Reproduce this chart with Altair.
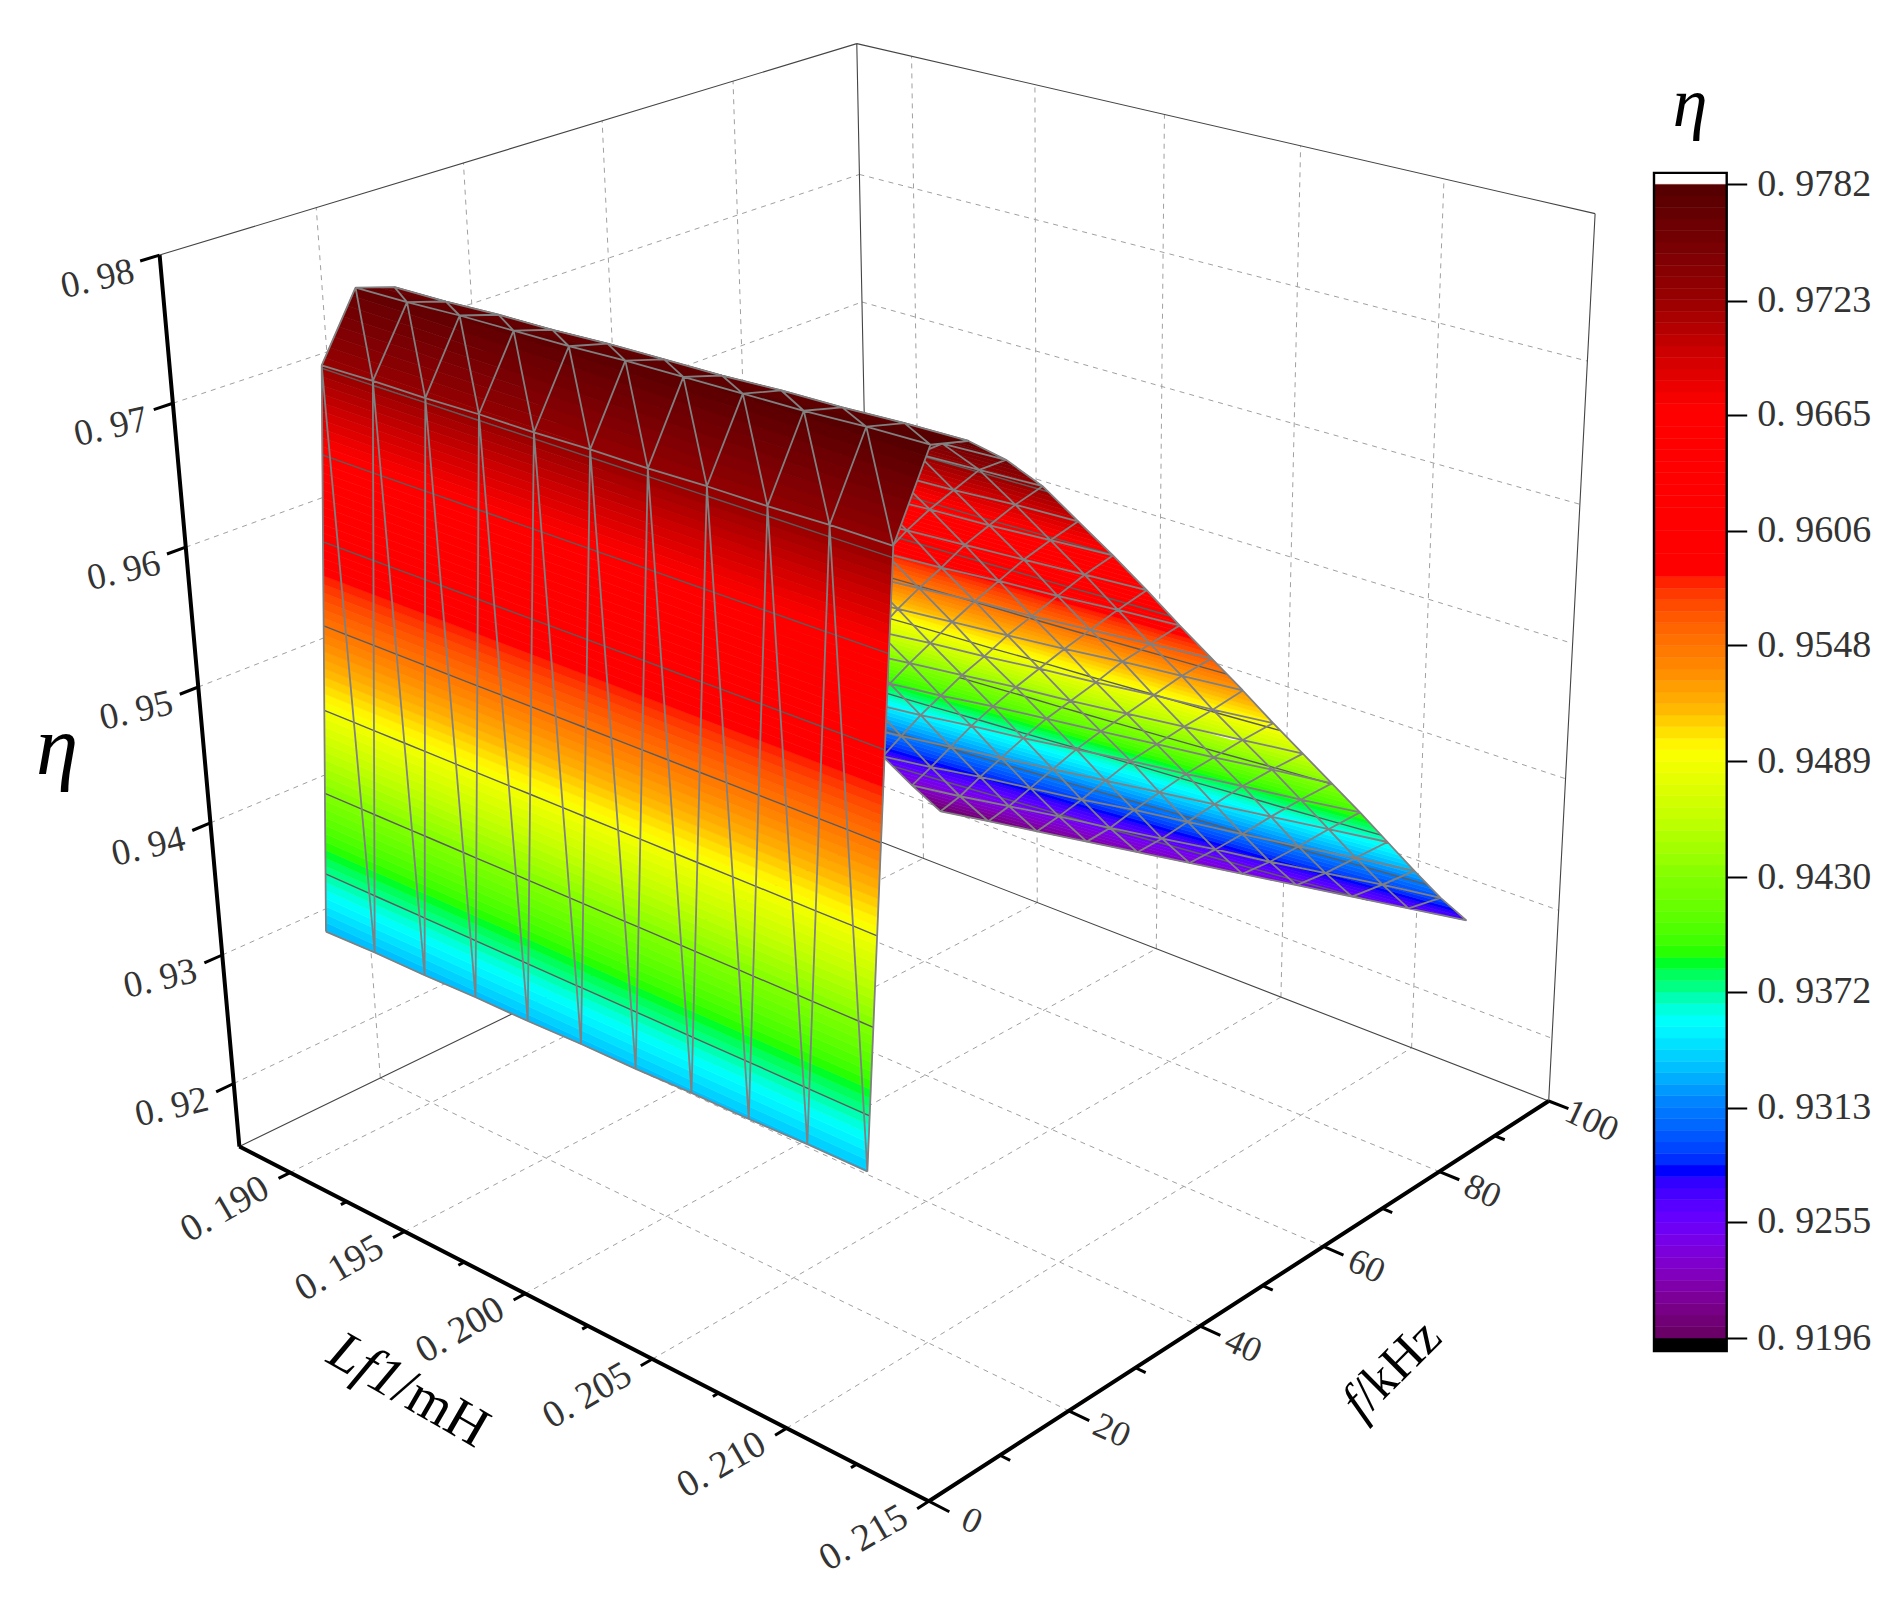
import math
import altair as alt
import numpy as np

# ---------- values ----------
L_VALUES = [0.1908, 0.1929, 0.1950, 0.1971, 0.1992, 0.2013, 0.2034, 0.2055, 0.2076, 0.2097, 0.2118]
F_VALUES = [5, 10, 15, 20, 25, 30, 35, 40, 45, 50, 55, 60, 65, 70, 75, 80, 85, 90, 95, 100]
ETA = [
    [.9330, .9331, .9331, .9332, .9332, .9333, .9333, .9334, .9334, .9335, .9335],
    [.9725, .9726, .9726, .9727, .9727, .9728, .9728, .9729, .9729, .9730, .9730],
    [.9769, .9770, .9772, .9773, .9774, .9776, .9777, .9778, .9779, .9781, .9782],
    [.9761, .9762, .9764, .9765, .9767, .9768, .9769, .9771, .9772, .9774, .9775],
    [.9737, .9738, .9740, .9742, .9744, .9745, .9747, .9749, .9751, .9752, .9754],
    [.9707, .9709, .9711, .9713, .9715, .9718, .9720, .9722, .9724, .9726, .9728],
    [.9672, .9674, .9677, .9679, .9682, .9684, .9686, .9689, .9691, .9694, .9696],
    [.9636, .9639, .9642, .9644, .9647, .9650, .9653, .9656, .9658, .9661, .9664],
    [.9600, .9603, .9606, .9609, .9612, .9615, .9619, .9622, .9625, .9628, .9631],
    [.9562, .9566, .9569, .9573, .9576, .9580, .9583, .9587, .9590, .9594, .9597],
    [.9526, .9529, .9533, .9537, .9541, .9545, .9549, .9552, .9556, .9560, .9564],
    [.9489, .9493, .9497, .9502, .9506, .9510, .9514, .9518, .9523, .9527, .9531],
    [.9452, .9456, .9461, .9465, .9470, .9474, .9479, .9483, .9488, .9492, .9497],
    [.9415, .9420, .9425, .9430, .9435, .9440, .9444, .9449, .9454, .9459, .9464],
    [.9379, .9384, .9389, .9394, .9400, .9405, .9410, .9415, .9420, .9426, .9431],
    [.9342, .9348, .9353, .9359, .9364, .9370, .9376, .9381, .9387, .9392, .9398],
    [.9305, .9310, .9316, .9322, .9328, .9334, .9340, .9346, .9352, .9358, .9364],
    [.9267, .9273, .9280, .9286, .9292, .9299, .9305, .9311, .9317, .9324, .9330],
    [.9231, .9237, .9244, .9251, .9257, .9264, .9271, .9277, .9284, .9291, .9297],
    [.9197, .9204, .9211, .9218, .9225, .9232, .9239, .9246, .9253, .9260, .9267],
]
L_TICKS = [0.190, 0.195, 0.200, 0.205, 0.210, 0.215]
L_MINOR = [0.1925, 0.1975, 0.2025, 0.2075, 0.2125]
F_TICKS = [0, 20, 40, 60, 80, 100]
F_MINOR = [10, 30, 50, 70, 90]
Z_TICKS = [0.92, 0.93, 0.94, 0.95, 0.96, 0.97, 0.98]
BAR_TICKS = [0.9196, 0.9255, 0.9313, 0.9372, 0.9430, 0.9489, 0.9548, 0.9606, 0.9665, 0.9723, 0.9782]
COLOR_STOPS = [.9196, .9229, .9255, .9281, .9315, .9356, .9375, .9388, .9430, .9495, .9518, .9541, .9584, .9606, .9669, .9699, .9723, .9782]
COLOR_RANGE = ['#660060', '#8000c0', '#6a00ff', '#0000ff', '#0080ff', '#00ffff', '#00ff80', '#00ff00', '#80ff00',
               '#ffff00', '#ffb000', '#ff8000', '#ff0000', '#ff0000', '#ff0000', '#c80000', '#990000', '#540000']

# ---------- the camera of the 3-D box ----------
CAMERA = np.array([[521.62347, 768.39717, -94.93206, 290.15765],
                   [139.50482, -188.68370, -924.45794, 1172.58353],
                   [-0.12597626, 0.14630565, -0.08919795, 1.0]])
L_MIN, L_MAX, F_MIN, F_MAX, Z_MIN, Z_MAX = 0.1877, 0.215, 0, 100, 0.915, 0.98
MARGIN = 8


def proj(L, f, z):
    h = CAMERA @ np.array([(L - 0.19) / 0.025, f / 100, (z - 0.915) / 0.065, 1.0])
    return [round(float(h[0] / h[2] - MARGIN), 2), round(float(h[1] / h[2] - MARGIN), 2)]


def multiline(segments):
    coords = [[proj(*a), proj(*b)] for a, b in segments]
    return alt.Data(values=[{'type': 'Feature', 'properties': {},
                             'geometry': {'type': 'MultiLineString', 'coordinates': coords}}])


ID = dict(type='identity', scale=1, translate=[0, 0])


def lines(segments, color, width, dash=None):
    kw = dict(filled=False, stroke=color, strokeWidth=width)
    if dash:
        kw['strokeDash'] = dash
    return alt.Chart(multiline(segments)).mark_geoshape(**kw).project(**ID)


# ---------- gridlines, box, axes ----------
grid = []
for f in F_TICKS[1:-1]:
    grid.append(((L_MIN, f, Z_MIN), (L_MIN, f, Z_MAX)))
    grid.append(((L_MIN, f, Z_MIN), (L_MAX, f, Z_MIN)))
for L in L_TICKS[:-1]:
    grid.append(((L, F_MAX, Z_MIN), (L, F_MAX, Z_MAX)))
    grid.append(((L, F_MIN, Z_MIN), (L, F_MAX, Z_MIN)))
for z in Z_TICKS[:-1]:
    grid.append(((L_MIN, F_MIN, z), (L_MIN, F_MAX, z)))
    grid.append(((L_MIN, F_MAX, z), (L_MAX, F_MAX, z)))
box = [((L_MIN, F_MIN, Z_MAX), (L_MIN, F_MAX, Z_MAX)), ((L_MIN, F_MAX, Z_MAX), (L_MAX, F_MAX, Z_MAX)),
       ((L_MAX, F_MAX, Z_MAX), (L_MAX, F_MAX, Z_MIN)), ((L_MIN, F_MAX, Z_MAX), (L_MIN, F_MAX, Z_MIN)),
       ((L_MIN, F_MIN, Z_MIN), (L_MIN, F_MAX, Z_MIN)), ((L_MIN, F_MAX, Z_MIN), (L_MAX, F_MAX, Z_MIN))]
axes = [((L_MIN, F_MIN, Z_MIN), (L_MAX, F_MIN, Z_MIN)), ((L_MAX, F_MIN, Z_MIN), (L_MAX, F_MAX, Z_MIN)),
        ((L_MIN, F_MIN, Z_MIN), (L_MIN, F_MIN, Z_MAX))]
ticks = [((L, 0, Z_MIN), (L, -1.6, Z_MIN)) for L in L_TICKS]
ticks += [((L, 0, Z_MIN), (L, -0.8, Z_MIN)) for L in L_MINOR]
ticks += [((0.215, f, Z_MIN), (0.2157, f, Z_MIN)) for f in F_TICKS]
ticks += [((0.215, f, Z_MIN), (0.21535, f, Z_MIN)) for f in F_MINOR]
ticks += [((L_MIN, 0, z), (L_MIN, -2.4, z)) for z in Z_TICKS]

# ---------- surface ----------
BAND = (BAR_TICKS[-1] - BAR_TICKS[0]) / 100
EDGES = [BAR_TICKS[0] + k * BAND for k in range(101)]


def clip(poly, level, keep_above):
    out = []
    if not poly:
        return out
    for a, b in zip(poly, poly[1:] + poly[:1]):
        ina = (a[2] >= level) == keep_above
        inb = (b[2] >= level) == keep_above
        if ina:
            out.append(a)
        if ina != inb:
            t = (level - a[2]) / (b[2] - a[2])
            out.append(tuple(a[k] + t * (b[k] - a[k]) for k in range(3)))
    return out


def vtx(j, i):
    return (L_VALUES[i], F_VALUES[j], ETA[j][i])


def triangles(rows):
    tris = []
    for j in rows:
        for i in range(len(L_VALUES) - 1):
            tris.append([vtx(j, i), vtx(j, i + 1), vtx(j + 1, i)])
            tris.append([vtx(j, i + 1), vtx(j + 1, i + 1), vtx(j + 1, i)])
    return tris


def surface_layers(rows):
    tris = triangles(rows)
    feats = []
    for tri in tris:
        lo, hi = min(p[2] for p in tri), max(p[2] for p in tri)
        for k in range(100):
            a, b = EDGES[k], EDGES[k + 1]
            if b < lo or a > hi:
                continue
            poly = clip(clip(tri, a, True), b, False)
            if len(poly) < 3:
                continue
            ring = [proj(*p) for p in poly]
            ring.append(ring[0])
            feats.append({'type': 'Feature', 'properties': {'eta': round((a + b) / 2, 5)},
                          'geometry': {'type': 'Polygon', 'coordinates': [ring]}})
    scale = alt.Scale(domain=COLOR_STOPS, range=COLOR_RANGE)
    fill = alt.Chart(alt.Data(values=feats)).mark_geoshape(strokeWidth=0.6).encode(
        color=alt.Color('properties.eta:Q', scale=scale, legend=None),
        stroke=alt.Stroke('properties.eta:Q', scale=scale, legend=None),
    ).project(**ID)
    contours = []
    for lev in BAR_TICKS:
        for tri in tris:
            pts = []
            for a, b in zip(tri, tri[1:] + tri[:1]):
                if (a[2] - lev) * (b[2] - lev) < 0:
                    t = (lev - a[2]) / (b[2] - a[2])
                    pts.append(tuple(a[k] + t * (b[k] - a[k]) for k in range(3)))
            if len(pts) == 2:
                contours.append((pts[0], pts[1]))
    mesh = []
    for j in rows:
        for i in range(len(L_VALUES)):
            mesh.append((vtx(j, i), vtx(j + 1, i)))
            if i < len(L_VALUES) - 1:
                mesh.append((vtx(j, i + 1), vtx(j + 1, i)))
                mesh.append((vtx(j, i), vtx(j, i + 1)))
                mesh.append((vtx(j + 1, i), vtx(j + 1, i + 1)))
    out = [fill]
    if contours:
        out.append(lines(contours, '#5c5c5c', 1.4))
    out.append(lines(mesh, '#808080', 1.8))
    return out


far = surface_layers(list(range(18, 2, -1)))
front = surface_layers([2, 1, 0])

# ---------- tick labels ----------
SERIF = 'Liberation Serif'


def tick_text(rows, ox, oy, angle, size):
    a = math.radians(angle)
    dx = ox * math.cos(a) + oy * math.sin(a)
    dy = -ox * math.sin(a) + oy * math.cos(a)
    return alt.Chart(alt.Data(values=rows)).mark_text(
        font=SERIF, fontSize=size, color='#333333', angle=angle % 360, dx=dx, dy=dy, align='center', baseline='middle'
    ).encode(x=alt.X('px:Q', scale=None, axis=None), y=alt.Y('py:Q', scale=None, axis=None), text='t:N')


def row(point, label):
    x, y = proj(*point)
    return {'px': x, 'py': y, 't': label}


L_LAB = tick_text([row((L, 0, Z_MIN), f'0. {round(L * 1000):d}') for L in L_TICKS], -65, 37, -30, 38)
F_LAB = tick_text([row((0.215, f, Z_MIN), str(f)) for f in F_TICKS], 43, 20, 25, 36)
Z_LAB = tick_text([row((L_MIN, 0, z), f'0. {round(z * 100):d}') for z in Z_TICKS], -62, 24, -13, 37)


def title(text, x, y, size, angle=0, italic=False, align='center'):
    return alt.Chart(alt.Data(values=[{'t': text}])).mark_text(
        font=SERIF, fontSize=size, color='black', angle=angle, align=align, baseline='middle',
        fontStyle='italic' if italic else 'normal'
    ).encode(x=alt.value(x - MARGIN), y=alt.value(y - MARGIN), text='t:N')


titles = [
    title('η', 57, 748, 85, italic=True),
    title('η', 1690, 105, 70, italic=True),
    title('Lf1', 398, 1384, 56, angle=30, italic=True, align='right'),
    title('/mH', 398, 1384, 56, angle=30, align='left'),
    title('f', 1361, 1400, 52, angle=315, italic=True, align='right'),
    title('/kHz', 1361, 1400, 52, angle=315, align='left'),
]

# ---------- colour bar ----------
BAR_LEFT, BAR_RIGHT = 1654 - MARGIN, 1726.7 - MARGIN
BAR_BOTTOM, BAR_TOP = 1338 - MARGIN, 184.4 - MARGIN
W, H = 1886, 1603
bands = [{'lo': EDGES[k], 'hi': EDGES[k + 1], 'eta': (EDGES[k] + EDGES[k + 1]) / 2} for k in range(100)]
one = alt.Data(values=[{'a': 1}])
bar_frame_bottom = alt.Chart(one).mark_rect(color='black').encode(
    x=alt.value(BAR_LEFT), x2=alt.value(BAR_RIGHT), y=alt.value(BAR_BOTTOM), y2=alt.value(1351 - MARGIN))
bar = alt.Chart(alt.Data(values=bands)).mark_rect(strokeWidth=0.5).encode(
    x=alt.value(BAR_LEFT), x2=alt.value(BAR_RIGHT),
    y=alt.Y('lo:Q', scale=alt.Scale(domain=[BAR_TICKS[0], BAR_TICKS[-1]], range=[BAR_BOTTOM, BAR_TOP]),
            axis=alt.Axis(orient='right', values=BAR_TICKS, offset=BAR_RIGHT - W, title=None, domain=False,
                          grid=False, tickColor='black', tickWidth=2, tickSize=20, labelPadding=10,
                          labelFont=SERIF, labelFontSize=38, labelColor='#333333',
                          labelExpr="replace(format(datum.value, '.4f'), '.', '. ')")),
    y2='hi:Q',
    color=alt.Color('eta:Q', scale=alt.Scale(domain=COLOR_STOPS, range=COLOR_RANGE), legend=None),
    stroke=alt.Stroke('eta:Q', scale=alt.Scale(domain=COLOR_STOPS, range=COLOR_RANGE), legend=None),
)
bar_outline = alt.Chart(one).mark_rect(fill='transparent', stroke='black', strokeWidth=2.4).encode(
    x=alt.value(BAR_LEFT), x2=alt.value(BAR_RIGHT), y=alt.value(172.9 - MARGIN), y2=alt.value(1351 - MARGIN))

layers = [lines(grid, '#a0a0a0', 1, [5, 5]), lines(box, '#444444', 1.1), lines(axes, 'black', 4),
          lines(ticks, 'black', 3)] + far + front + [L_LAB, F_LAB, Z_LAB] + titles + [bar_frame_bottom, bar, bar_outline]

chart = alt.layer(*layers).resolve_scale(y='independent', color='independent', stroke='independent').properties(
    width=W, height=H, padding=0, autosize=alt.AutoSizeParams(type='none')
).configure_view(stroke=None)

chart.save('out.html', embed_options={'renderer': 'svg', 'actions': False})
